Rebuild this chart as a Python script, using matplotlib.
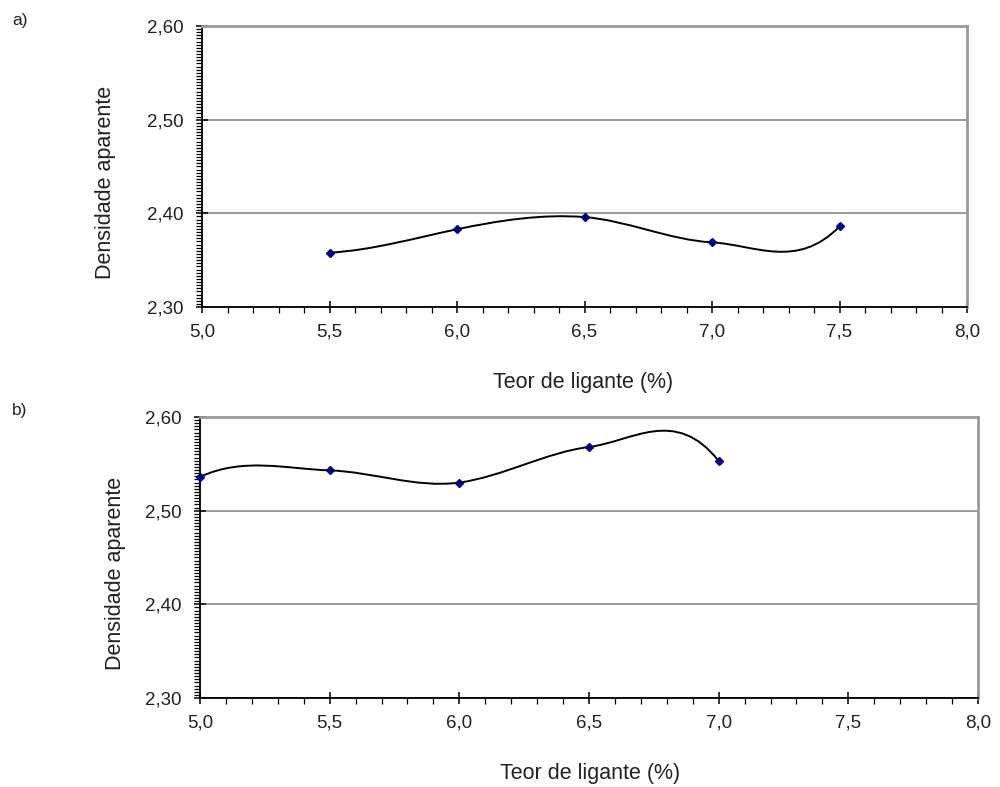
import matplotlib; matplotlib.use("Agg")
import matplotlib.pyplot as plt
from matplotlib.path import Path
from matplotlib.patches import PathPatch
from matplotlib.ticker import MultipleLocator, FuncFormatter
import numpy as np

plt.rcParams["font.family"] = ["Liberation Sans", "DejaVu Sans"]

# data
teor_a = [5.5, 6.0, 6.5, 7.0, 7.5]
dens_a = [2.358, 2.383, 2.396, 2.369, 2.386]
teor_b = [5.0, 5.5, 6.0, 6.5, 7.0]
dens_b = [2.536, 2.543, 2.530, 2.568, 2.553]
panel_tags = ["a)", "b)"]
x_label = "Teor de ligante (%)"
y_label = "Densidade aparente"

GRID = "#9a9a9a"; NAVY = "#000080"


def smooth_path(x, y, gain=1.5, k=5.0):
    # spreadsheet-style "smoothed line": cubic Bezier through the points
    x = np.asarray(x, float); y = np.asarray(y, float)
    h = np.diff(x); s = np.diff(y) / h
    m = np.empty_like(y)
    m[1:-1] = gain * (y[2:] - y[:-2]) / (x[2:] - x[:-2])
    m[0] = s[0] + k * (s[0] - m[1])
    m[-1] = s[-1] + k * (s[-1] - m[-2])
    verts = [(x[0], y[0])]; codes = [Path.MOVETO]
    for i in range(len(x) - 1):
        d = h[i] / 3
        verts += [(x[i] + d, y[i] + d * m[i]), (x[i + 1] - d, y[i + 1] - d * m[i + 1]), (x[i + 1], y[i + 1])]
        codes += [Path.CURVE4] * 3
    return Path(verts, codes)


fig = plt.figure(figsize=(10, 7.87), dpi=100)
W, H = 1000, 787
boxes = [(202, 26, 967, 307), (200, 417, 978, 698)]   # left, top, right, bottom in px
ylab_pos = [(106, 182), (116, 573)]
xlab_pos = [(583, 383), (590, 774)]
tag_pos = [(12, 21), (12, 411)]

for (xs, ys), (l, t, r, b), tag, yl, xl, tp in zip(
        [(teor_a, dens_a), (teor_b, dens_b)], boxes, panel_tags, ylab_pos, xlab_pos, tag_pos):
    ax = fig.add_axes([l / W, 1 - b / H, (r - l) / W, (b - t) / H])
    ax.set_xlim(5.0, 8.0); ax.set_ylim(2.30, 2.60)
    ax.xaxis.set_major_locator(MultipleLocator(0.5))
    ax.xaxis.set_minor_locator(MultipleLocator(0.1))
    ax.yaxis.set_major_locator(MultipleLocator(0.1))
    ax.yaxis.set_minor_locator(MultipleLocator(0.1 / 30))
    ax.xaxis.set_major_formatter(FuncFormatter(lambda v, _: f"{v:.1f}".replace(".", ",")))
    ax.yaxis.set_major_formatter(FuncFormatter(lambda v, _: f"{v:.2f}".replace(".", ",")))
    ax.tick_params(which="major", direction="inout", length=8, width=1.1, labelsize=13.5, color="black",
                   labelcolor="#222222")
    ax.tick_params(which="minor", direction="out", length=4, width=0.9, color="black")
    ax.tick_params(axis="x", which="major", pad=8)
    ax.tick_params(axis="y", which="major", pad=9)
    ax.yaxis.grid(True, which="major", color=GRID, lw=1.4)
    ax.set_axisbelow(True)
    for side in ("top", "right"):
        ax.spines[side].set_color(GRID); ax.spines[side].set_linewidth(2)
    for side in ("left", "bottom"):
        ax.spines[side].set_color("black"); ax.spines[side].set_linewidth(1.3)

    ax.add_patch(PathPatch(smooth_path(xs, ys), fc="none", ec="black", lw=1.4, zorder=3))
    ax.plot(xs, ys, ls="none", marker="D", ms=4.5, color=NAVY, zorder=4, clip_on=False)

    fig.text(yl[0] / W, 1 - yl[1] / H, y_label, rotation=90, ha="center", va="center",
             fontsize=15.5, color="#222222")
    fig.text(xl[0] / W, 1 - xl[1] / H, x_label, ha="center", va="center", fontsize=15.5, color="#222222")
    fig.text(tp[0] / W, 1 - tp[1] / H, tag, ha="left", va="center", fontsize=12.5, color="#222222")

fig.savefig("out.png", dpi=100, facecolor="white")
